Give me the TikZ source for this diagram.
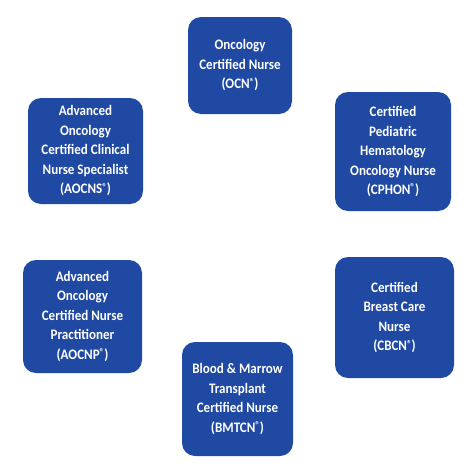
\documentclass[tikz,border=0pt]{standalone}
\usepackage{fontspec}
\setmainfont[FakeStretch=0.9]{Carlito}
\definecolor{boxblue}{RGB}{31,73,163}
\begin{document}
\begin{tikzpicture}[x=1pt,y=-1pt,
  cert/.style={fill=boxblue, draw=none, rounded corners=13pt, text=white,
    font=\fontsize{14.5}{19.5}\selectfont\bfseries, align=center, inner sep=0pt}]
\useasboundingbox[fill=white] (0,0) rectangle (474,474);
\newcommand{\reg}{{\fontsize{10}{10}\selectfont\raisebox{3.6pt}{®}}}
\node[cert, minimum width=104pt, minimum height=97pt] (ocn) at (240,65.5)
  {Oncology\\Certified Nurse\\(OCN\reg)};
\node[cert, minimum width=116pt, minimum height=119pt] (cphon) at (393,151.5)
  {Certified\\Pediatric\\Hematology\\Oncology Nurse\\(CPHON\reg)};
\node[cert, minimum width=115pt, minimum height=106pt] (aocns) at (85.5,151)
  {Advanced\\Oncology\\Certified Clinical\\Nurse Specialist\\(AOCNS\reg)};
\node[cert, minimum width=119pt, minimum height=113pt] (aocnp) at (82.5,316.5)
  {Advanced\\Oncology\\Certified Nurse\\Practitioner\\(AOCNP\reg)};
\node[cert, minimum width=119pt, minimum height=121pt] (cbcn) at (394.5,317.5)
  {Certified\\Breast Care\\Nurse\\(CBCN\reg)};
\node[cert, minimum width=111pt, minimum height=114pt] (bmtcn) at (237.5,399)
  {Blood \& Marrow\\Transplant\\Certified Nurse\\(BMTCN\reg)};
\end{tikzpicture}
\end{document}
